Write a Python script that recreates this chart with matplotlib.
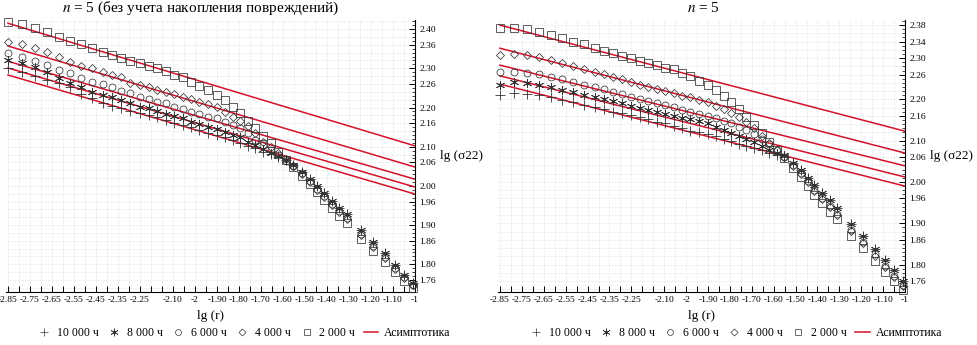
import matplotlib
matplotlib.use("Agg")
import matplotlib.pyplot as plt
from matplotlib.lines import Line2D
import numpy as np

plt.rcParams['font.family'] = ['Liberation Serif', 'DejaVu Serif']
plt.rcParams['mathtext.fontset'] = 'stix'

# lg(r) mesh, same for every series and both charts
lg_r = [-2.85, -2.786, -2.727, -2.673, -2.618, -2.568, -2.518, -2.468, -2.418, -2.377,
        -2.336, -2.295, -2.25, -2.209, -2.173, -2.132, -2.095, -2.055, -2.018, -1.982,
        -1.941, -1.9, -1.864, -1.827, -1.795, -1.759, -1.727, -1.691, -1.655, -1.623,
        -1.586, -1.555, -1.514, -1.477, -1.445, -1.414, -1.377, -1.345, -1.309, -1.245,
        -1.191, -1.136, -1.091, -1.05, -1.009]

# left chart: n = 5 without damage accumulation
left_10000 = [2.301, 2.290, 2.280, 2.270, 2.262, 2.252, 2.234, 2.224, 2.211, 2.204,
              2.198, 2.191, 2.186, 2.181, 2.176, 2.168, 2.160, 2.155, 2.150, 2.142,
              2.135, 2.130, 2.124, 2.117, 2.109, 2.102, 2.096, 2.086, 2.081, 2.073,
              2.066, 2.053, 2.035, 2.017, 2.000, 1.982, 1.961, 1.943, 1.928, 1.887,
              1.857, 1.829, 1.798, 1.772, 1.752]
left_8000 = [2.321, 2.313, 2.303, 2.290, 2.275, 2.262, 2.252, 2.239, 2.232, 2.227,
             2.219, 2.211, 2.201, 2.198, 2.191, 2.183, 2.178, 2.173, 2.163, 2.158,
             2.150, 2.145, 2.137, 2.130, 2.124, 2.112, 2.104, 2.094, 2.084, 2.076,
             2.066, 2.053, 2.035, 2.017, 2.000, 1.982, 1.961, 1.943, 1.928, 1.887,
             1.857, 1.829, 1.798, 1.772, 1.752]
left_6000 = [2.339, 2.329, 2.318, 2.308, 2.295, 2.288, 2.275, 2.265, 2.260, 2.252,
             2.242, 2.237, 2.227, 2.221, 2.214, 2.211, 2.201, 2.196, 2.188, 2.183,
             2.176, 2.173, 2.163, 2.155, 2.147, 2.135, 2.117, 2.104, 2.091, 2.079,
             2.063, 2.051, 2.033, 2.012, 1.992, 1.974, 1.954, 1.936, 1.918, 1.877,
             1.846, 1.818, 1.790, 1.767, 1.747]
left_4000 = [2.367, 2.362, 2.352, 2.341, 2.329, 2.316, 2.306, 2.301, 2.290, 2.283,
             2.278, 2.262, 2.257, 2.252, 2.244, 2.239, 2.234, 2.227, 2.221, 2.214,
             2.209, 2.201, 2.188, 2.176, 2.165, 2.153, 2.135, 2.112, 2.099, 2.084,
             2.068, 2.051, 2.030, 2.010, 1.989, 1.971, 1.951, 1.933, 1.915, 1.874,
             1.844, 1.816, 1.788, 1.765, 1.747]
left_2000 = [2.418, 2.413, 2.403, 2.392, 2.380, 2.369, 2.362, 2.352, 2.341, 2.334,
             2.326, 2.318, 2.313, 2.306, 2.301, 2.293, 2.283, 2.278, 2.265, 2.255,
             2.244, 2.232, 2.219, 2.201, 2.186, 2.165, 2.147, 2.127, 2.109, 2.086,
             2.066, 2.048, 2.025, 2.005, 1.984, 1.964, 1.943, 1.923, 1.905, 1.864,
             1.834, 1.806, 1.780, 1.757, 1.739]

# right chart: n = 5
right_10000 = [2.211, 2.215, 2.213, 2.211, 2.206, 2.198, 2.194, 2.186, 2.181, 2.177,
               2.169, 2.167, 2.162, 2.157, 2.152, 2.145, 2.143, 2.135, 2.131, 2.123,
               2.121, 2.116, 2.111, 2.104, 2.099, 2.092, 2.087, 2.082, 2.077, 2.070,
               2.065, 2.060, 2.046, 2.029, 2.010, 1.993, 1.973, 1.956, 1.937, 1.898,
               1.869, 1.838, 1.811, 1.787, 1.760]
right_8000 = [2.235, 2.242, 2.240, 2.235, 2.230, 2.223, 2.218, 2.211, 2.206, 2.201,
              2.196, 2.191, 2.184, 2.179, 2.174, 2.169, 2.164, 2.160, 2.155, 2.152,
              2.148, 2.143, 2.133, 2.126, 2.119, 2.111, 2.104, 2.097, 2.087, 2.077,
              2.070, 2.065, 2.046, 2.029, 2.010, 1.993, 1.973, 1.956, 1.937, 1.898,
              1.869, 1.838, 1.811, 1.787, 1.760]
right_6000 = [2.266, 2.266, 2.264, 2.261, 2.254, 2.249, 2.242, 2.235, 2.230, 2.225,
              2.218, 2.213, 2.206, 2.201, 2.196, 2.191, 2.186, 2.181, 2.174, 2.169,
              2.164, 2.160, 2.155, 2.148, 2.143, 2.133, 2.126, 2.116, 2.104, 2.092,
              2.077, 2.060, 2.041, 2.022, 2.002, 1.980, 1.961, 1.942, 1.922, 1.884,
              1.855, 1.826, 1.796, 1.772, 1.750]
right_4000 = [2.307, 2.310, 2.307, 2.303, 2.295, 2.288, 2.281, 2.273, 2.266, 2.261,
              2.254, 2.249, 2.242, 2.235, 2.230, 2.225, 2.220, 2.215, 2.208, 2.206,
              2.198, 2.194, 2.184, 2.177, 2.167, 2.157, 2.145, 2.131, 2.111, 2.094,
              2.077, 2.060, 2.039, 2.019, 2.000, 1.978, 1.959, 1.939, 1.920, 1.881,
              1.852, 1.821, 1.794, 1.770, 1.748]
right_2000 = [2.373, 2.373, 2.370, 2.363, 2.356, 2.349, 2.339, 2.334, 2.324, 2.317,
              2.312, 2.305, 2.300, 2.293, 2.288, 2.283, 2.276, 2.273, 2.264, 2.257,
              2.244, 2.235, 2.223, 2.208, 2.194, 2.177, 2.157, 2.138, 2.119, 2.097,
              2.077, 2.058, 2.034, 2.012, 1.990, 1.968, 1.949, 1.927, 1.910, 1.869,
              1.840, 1.809, 1.782, 1.760, 1.738]

# asymptote end points (at lg r = -2.85 and -1), order 2000, 4000, 6000, 8000, 10000
asym_x = [-2.85, -1.0]
left_asym_start = [2.415, 2.357, 2.318, 2.301, 2.283]
left_asym_end = [2.102, 2.048, 2.017, 1.997, 1.979]
right_asym_start = [2.380, 2.324, 2.283, 2.257, 2.237]
right_asym_end = [2.123, 2.070, 2.039, 2.012, 1.990]

x_tick_labels = ['-2.85', '-2.75', '-2.65', '-2.55', '-2.45', '-2.35', '-2.25',
                 '-2.10', '-2', '-1.90', '-1.80', '-1.70', '-1.60', '-1.50',
                 '-1.40', '-1.30', '-1.20', '-1.10', '-1']
left_y_ticks = ['2.40', '2.36', '2.30', '2.26', '2.20', '2.16', '2.10', '2.06',
                '2.00', '1.96', '1.90', '1.86', '1.80', '1.76']
right_y_ticks = ['2.38', '2.34', '2.30', '2.26', '2.20', '2.16', '2.10', '2.06',
                 '2.00', '1.96', '1.90', '1.86', '1.80', '1.76']

labels = ['10 000 ч', '8 000 ч', '6 000 ч', '4 000 ч', '2 000 ч']
RED = '#d4112a'
MK = '#333333'
styles = [dict(marker='+', ms=6.5, mew=0.6),
          dict(marker=(6, 2, 0), ms=6.5, mew=0.6),
          dict(marker='o', ms=5, mew=0.55),
          dict(marker='D', ms=4.2, mew=0.55),
          dict(marker='s', ms=5.2, mew=0.55)]

fig = plt.figure(figsize=(9.78, 3.45), dpi=100)
ax1 = fig.add_axes([0.0059, 0.1536, 0.4184, 0.788])
ax2 = fig.add_axes([0.509, 0.1536, 0.4164, 0.788])


def draw(ax, series, a_start, a_end, yticks, ylim, title, title_x):
    ax.set_xlim(-2.86, -1.0)
    ax.set_ylim(*ylim)
    # grid
    for gx in np.arange(-2.85, -0.999, 0.05):
        ax.axvline(gx, color='#dcdcdc', lw=0.6, ls=(0, (1, 1.5)), zorder=0)
    for gy in np.arange(1.74, ylim[1], 0.02):
        ax.axhline(gy, color='#dcdcdc', lw=0.6, ls=(0, (1, 1.5)), zorder=0)
    for s0, s1 in zip(a_start, a_end):
        ax.plot(asym_x, [s0, s1], color=RED, lw=1.1, zorder=2)
    for ys, st in zip(series, styles):
        ax.plot(lg_r, ys, ls='none', color=MK, mfc='none', mec=MK,
                zorder=3, clip_on=False, **st)

    for sp in ['top', 'left']:
        ax.spines[sp].set_visible(False)
    ax.spines['right'].set_linewidth(0.8)
    ax.spines['bottom'].set_linewidth(0.8)

    xt = np.round(np.arange(-2.85, -0.999, 0.05), 2)
    lab_vals = [float(t) for t in x_tick_labels]
    xl = []
    for t in xt:
        hit = [s for s, v in zip(x_tick_labels, lab_vals) if abs(v - t) < 1e-6]
        xl.append(hit[0] if hit else '')
    ax.set_xticks(xt)
    ax.set_xticklabels(xl, fontsize=6.8)
    ax.tick_params(axis='x', direction='in', length=4, width=0.7, pad=3)

    ax.yaxis.tick_right()
    yt = [float(t) for t in yticks]
    ax.set_yticks(yt)
    ax.set_yticklabels(yticks, fontsize=6.8)
    ax.set_yticks(np.round(np.arange(1.74, ylim[1], 0.01), 2), minor=True)
    ax.tick_params(axis='y', which='major', direction='in', length=4, width=0.7, pad=3)
    ax.tick_params(axis='y', which='minor', direction='in', length=2, width=0.5)

    ax.text(1.061, 0.5, 'lg (σ22)', transform=ax.transAxes, ha='left',
            va='center', fontsize=9.5)
    ax.text(0.5, -0.09, 'lg (r)', transform=ax.transAxes, ha='center',
            va='center', fontsize=9.5)
    ax.text(title_x, 1.045, title, transform=ax.transAxes, ha='center',
            va='center', fontsize=11)


draw(ax1, [left_10000, left_8000, left_6000, left_4000, left_2000],
     left_asym_start, left_asym_end, left_y_ticks, (1.729, 2.423),
     r'$n$ = 5 (без учета накопления повреждений)', 0.475)
draw(ax2, [right_10000, right_8000, right_6000, right_4000, right_2000],
     right_asym_start, right_asym_end, right_y_ticks, (1.7335, 2.392),
     r'$n$ = 5', 0.504)

handles = [Line2D([], [], ls='none', color=MK, mfc='none', mec=MK,
                  marker=st['marker'], ms=st['ms'] * 0.85, mew=0.5)
           for st in styles]
handles.append(Line2D([], [], color=RED, lw=1.1))
leg_labels = labels + ['Асимптотика']
for cx in [0.249, 0.752]:
    fig.legend(handles, leg_labels, loc='center', bbox_to_anchor=(cx, 0.035),
               ncol=6, frameon=False, fontsize=8.5, handlelength=1.2,
               handletextpad=0.5, columnspacing=0.7, borderaxespad=0)

fig.savefig('out.png', dpi=100)
